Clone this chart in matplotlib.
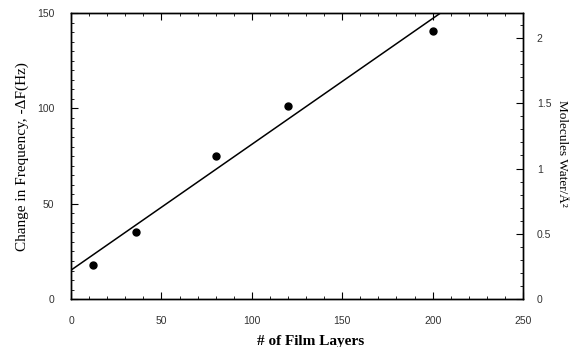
import matplotlib.pyplot as plt
import numpy as np

# film layers vs frequency change
layers = [12, 36, 80, 120, 200]
delta_f = [17.8, 35.3, 75.0, 101.3, 140.7]

# fitted line
fit_intercept = 15.2
fit_slope = 0.66

x_ticks = [0, 50, 100, 150, 200, 250]
y_ticks = [0, 50, 100, 150]
y2_ticks = [0, 0.5, 1, 1.5, 2]
y2_labels = ["0", "0.5", "1", "1.5", "2"]
y2_max = 2.19

fig = plt.figure(figsize=(5.7, 3.47), dpi=100)
ax = fig.add_axes([0.1246, 0.138, 0.793, 0.824])

xl = np.array([0, 250])
ax.plot(xl, fit_intercept + fit_slope * xl, color='black', lw=1.1)
ax.plot(layers, delta_f, 'o', color='black', ms=5)

ax.set_xlim(0, 250)
ax.set_ylim(0, 150)
ax.set_xticks(x_ticks)
ax.set_yticks(y_ticks)
ax.set_xticks(np.arange(0, 251, 10), minor=True)
ax.set_yticks(np.arange(0, 151, 5), minor=True)
ax.tick_params(which='both', direction='in', top=True, labelsize=7.5)
ax.tick_params(which='major', length=5, pad=12)
ax.tick_params(which='minor', length=2.5)
for lab in ax.get_xticklabels() + ax.get_yticklabels():
    lab.set_family('Liberation Sans')
    lab.set_color('#333333')

ax2 = ax.twinx()
ax2.set_ylim(0, y2_max)
ax2.set_yticks(y2_ticks)
ax2.set_yticklabels(y2_labels)
ax2.set_yticks(np.arange(0, 2.2, 0.1), minor=True)
ax2.tick_params(which='both', direction='in', labelsize=7.5)
ax2.tick_params(which='major', length=5, pad=10)
ax2.tick_params(which='minor', length=2.5)
for lab in ax2.get_yticklabels():
    lab.set_family('Liberation Sans')
    lab.set_color('#333333')

for a in (ax, ax2):
    for s in a.spines.values():
        s.set_linewidth(1.0)

ax.set_xlabel("# of Film Layers", family='Liberation Serif', fontsize=11,
              fontweight='bold')
ax.xaxis.set_label_coords(0.53, -0.125)
ax.set_ylabel("Change in Frequency, -\u0394F(Hz)", family='Liberation Serif',
              fontsize=11, labelpad=6)
fig.text(562 / 570, 1 - 153 / 347, "Molecules Water/\u00c5\u00b2",
         family='Liberation Serif', fontsize=9.5, rotation=-90,
         ha='center', va='center')

fig.savefig("out.png", dpi=100)
